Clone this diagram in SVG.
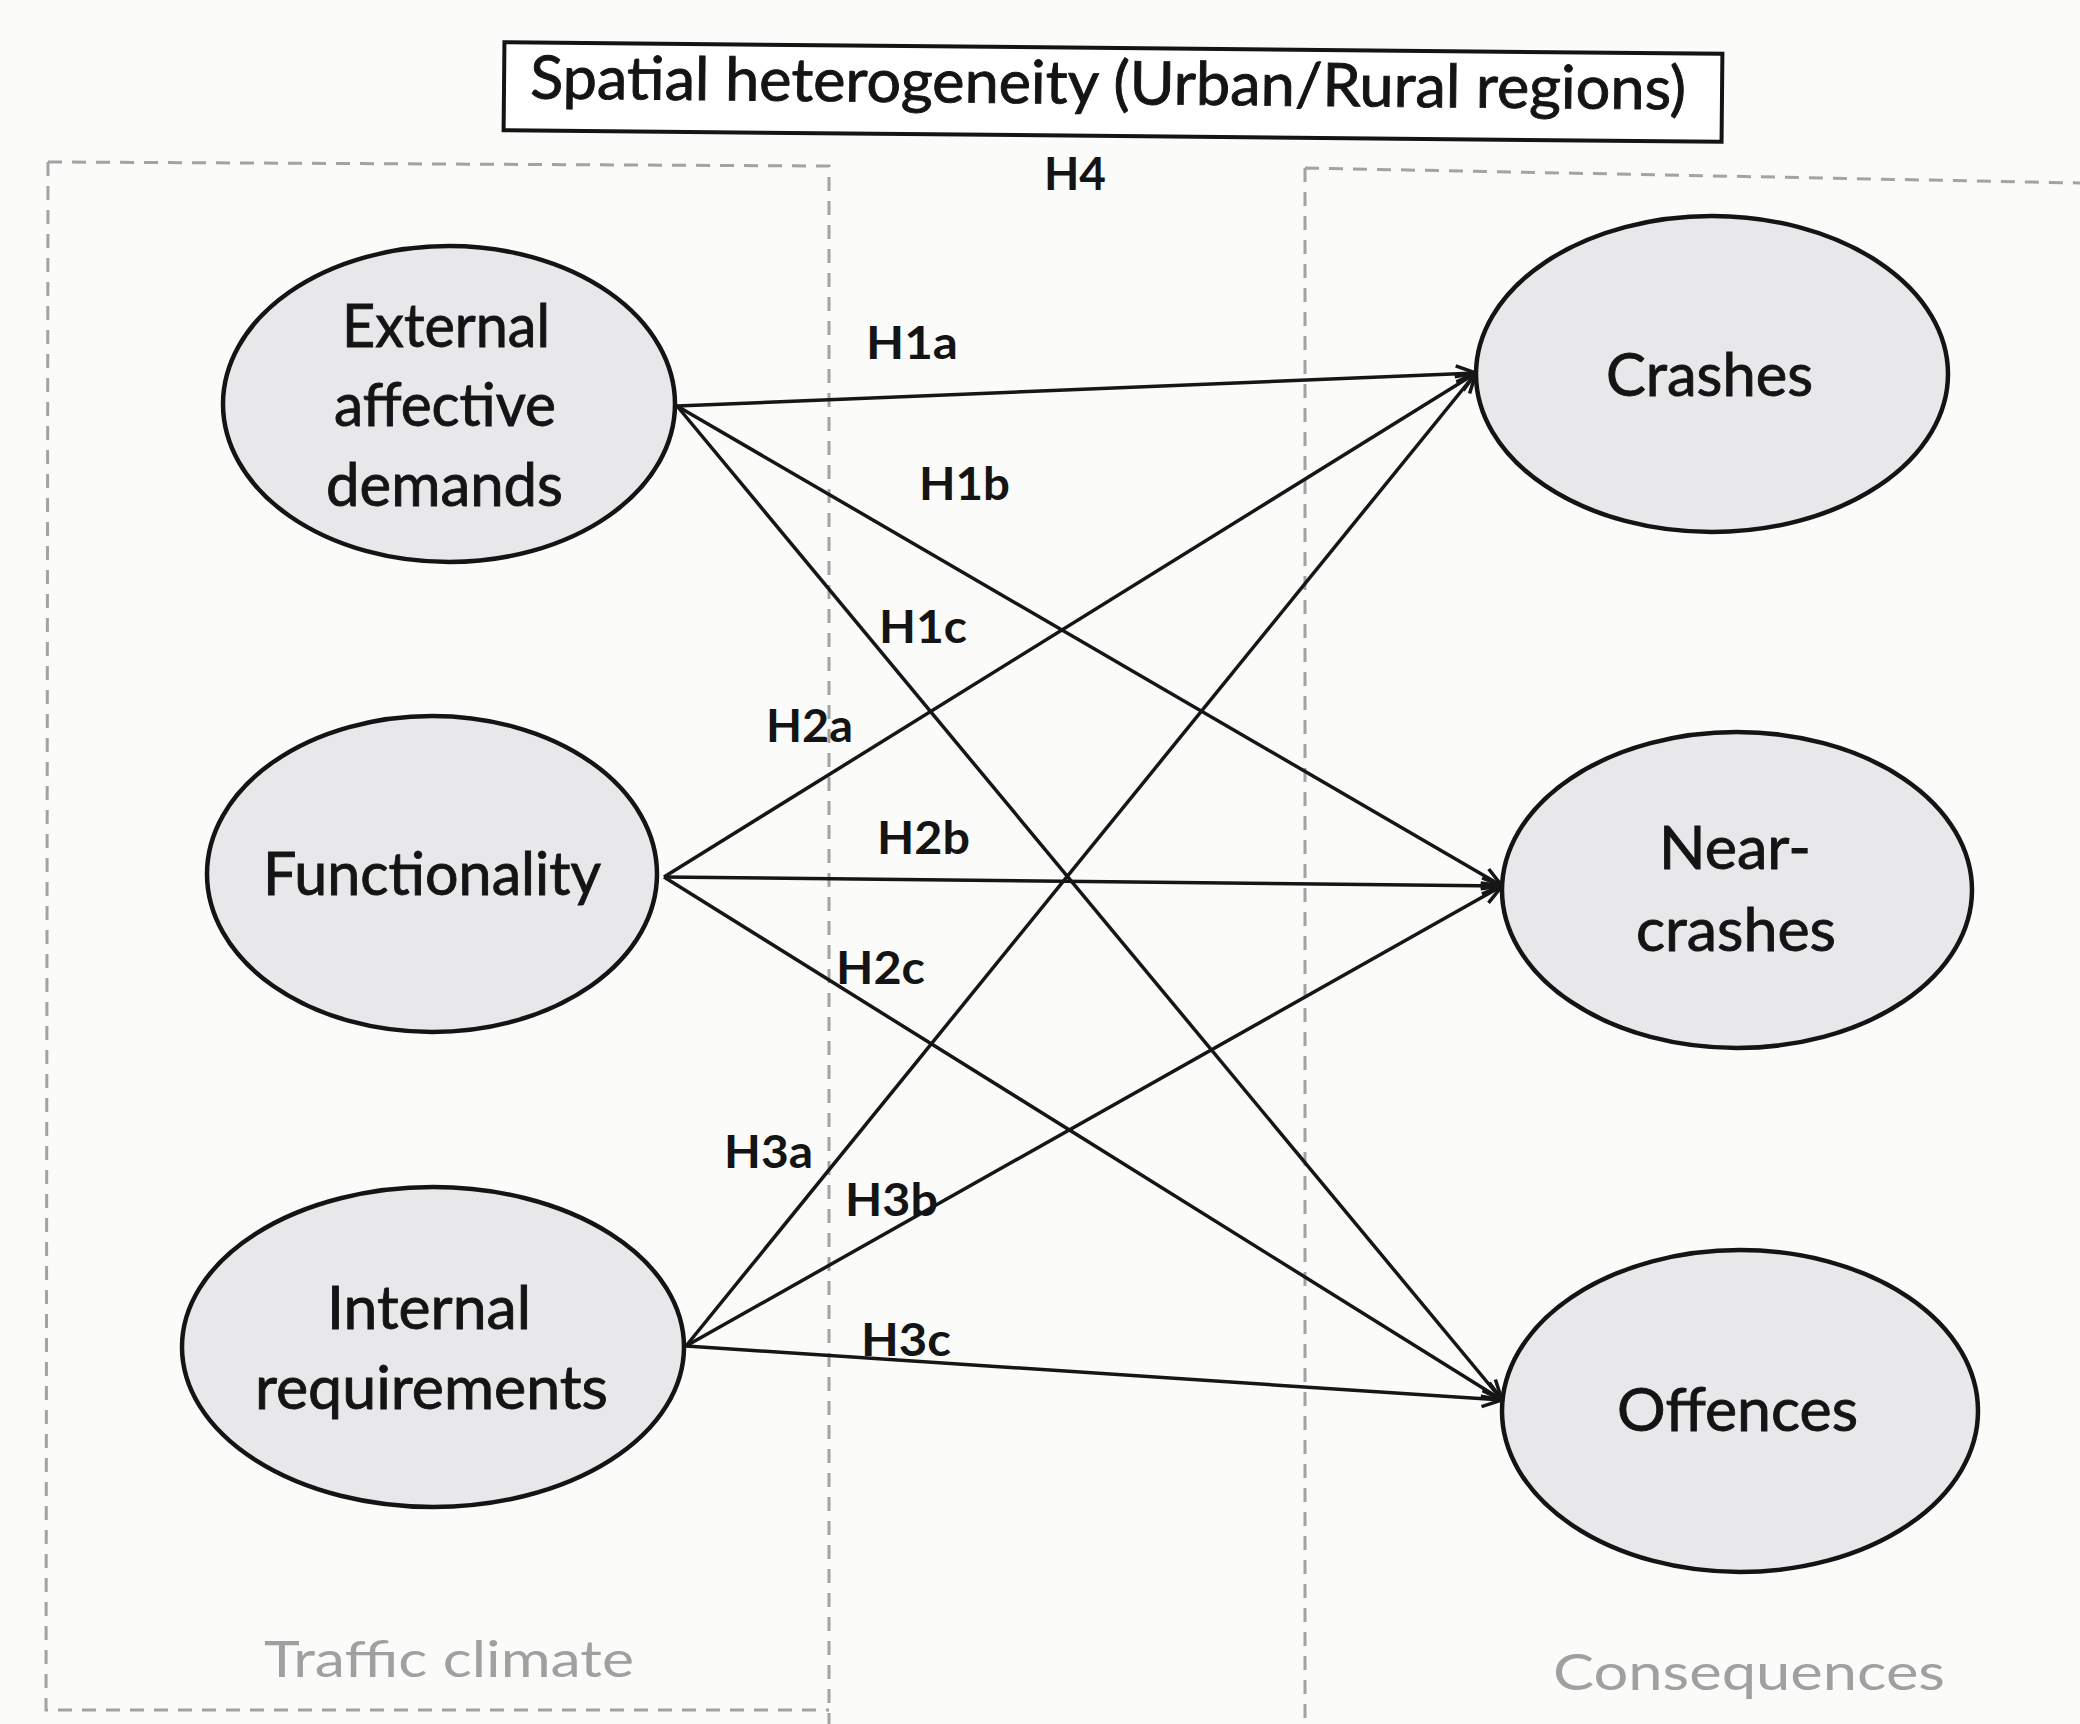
<svg xmlns="http://www.w3.org/2000/svg" width="2080" height="1724" viewBox="0 0 2080 1724">
<defs>
<style>
.bg{fill:#fbfbfa}
.panel{fill:none;stroke:#a3a3a3;stroke-width:3;stroke-dasharray:14 10}
.node ellipse{fill:#e8e8eb;stroke:#141414;stroke-width:4.5}
.t{font-family:Lato,"Open Sans","Liberation Sans",sans-serif;font-size:60px;fill:#141414;stroke:#141414;stroke-width:0.9}
.h{font-family:Lato,"Open Sans","Liberation Sans",sans-serif;font-size:46px;font-weight:700;fill:#141414}
.cap{font-family:Lato,"Open Sans","Liberation Sans",sans-serif;font-size:50px;fill:#a0a0a0}
.conn line{stroke:#161616;stroke-width:3.5;fill:none;marker-end:url(#arr)}
.box{fill:#ffffff;stroke:#141414;stroke-width:4}
</style>
<marker id="arr" markerUnits="userSpaceOnUse" markerWidth="26" markerHeight="22" refX="23" refY="10" orient="auto">
<path d="M3,2 L23,10 L3,18" fill="none" stroke="#161616" stroke-width="3.5"/>
</marker>
</defs>
<rect class="bg" x="0" y="0" width="2080" height="1724"/>

<g id="panels">
<path class="panel" d="M48,162 L829,166 L829,1724 M48,162 L46,1710 L829,1710"/>
<path class="panel" d="M1305,168 L2080,183 M1305,168 L1305,1724"/>
<text class="cap" x="264" y="1677" textLength="370" lengthAdjust="spacingAndGlyphs">Traffic climate</text>
<text class="cap" x="1553" y="1690" textLength="392" lengthAdjust="spacingAndGlyphs">Consequences</text>
</g>

<g id="spatial" transform="rotate(0.55 1113 92)">
<rect class="box" x="504" y="48" width="1218" height="88"/>
<text class="t" x="530" y="104" font-size="56" textLength="1156" lengthAdjust="spacingAndGlyphs">Spatial heterogeneity (Urban/Rural regions)</text>
</g>
<text id="h4" class="h" x="1044" y="190" textLength="62" lengthAdjust="spacingAndGlyphs">H4</text>

<g id="connectors" class="conn">
<line x1="677" y1="406" x2="1476" y2="373"/>
<line x1="677" y1="406" x2="1502" y2="886"/>
<line x1="677" y1="406" x2="1502" y2="1400"/>
<line x1="664" y1="877" x2="1476" y2="373"/>
<line x1="664" y1="877" x2="1502" y2="886"/>
<line x1="664" y1="877" x2="1502" y2="1400"/>
<line x1="686" y1="1346" x2="1476" y2="373"/>
<line x1="686" y1="1346" x2="1502" y2="886"/>
<line x1="686" y1="1346" x2="1502" y2="1400"/>
</g>

<g id="hlabels">
<text class="h" x="866" y="359" textLength="92" lengthAdjust="spacingAndGlyphs">H1a</text>
<text class="h" x="919" y="500" textLength="91" lengthAdjust="spacingAndGlyphs">H1b</text>
<text class="h" x="879" y="643" textLength="88" lengthAdjust="spacingAndGlyphs">H1c</text>
<text class="h" x="766" y="742" textLength="87" lengthAdjust="spacingAndGlyphs">H2a</text>
<text class="h" x="877" y="854" textLength="93" lengthAdjust="spacingAndGlyphs">H2b</text>
<text class="h" x="836" y="984" textLength="89" lengthAdjust="spacingAndGlyphs">H2c</text>
<text class="h" x="724" y="1168" textLength="89" lengthAdjust="spacingAndGlyphs">H3a</text>
<text class="h" x="845" y="1216" textLength="93" lengthAdjust="spacingAndGlyphs">H3b</text>
<text class="h" x="861" y="1356" textLength="90" lengthAdjust="spacingAndGlyphs">H3c</text>
</g>

<g id="external" class="node">
<ellipse cx="449" cy="404" rx="226" ry="158"/>
<text class="t" x="342" y="347" textLength="208" lengthAdjust="spacingAndGlyphs">External</text>
<text class="t" x="334" y="426" textLength="222" lengthAdjust="spacingAndGlyphs">affective</text>
<text class="t" x="326" y="506" textLength="237" lengthAdjust="spacingAndGlyphs">demands</text>
</g>
<g id="functionality" class="node">
<ellipse cx="432" cy="874" rx="225" ry="158"/>
<text class="t" x="263" y="895" textLength="338" lengthAdjust="spacingAndGlyphs">Functionality</text>
</g>
<g id="internal" class="node">
<ellipse cx="433" cy="1347" rx="251" ry="160"/>
<text class="t" x="327" y="1329" textLength="204" lengthAdjust="spacingAndGlyphs">Internal</text>
<text class="t" x="255" y="1409" textLength="353" lengthAdjust="spacingAndGlyphs">requirements</text>
</g>
<g id="crashes" class="node">
<ellipse cx="1712" cy="374" rx="236" ry="158"/>
<text class="t" x="1606" y="396" textLength="207" lengthAdjust="spacingAndGlyphs">Crashes</text>
</g>
<g id="nearcrashes" class="node">
<ellipse cx="1737" cy="890" rx="235" ry="158"/>
<text class="t" x="1659" y="869" textLength="152" lengthAdjust="spacingAndGlyphs">Near-</text>
<text class="t" x="1636" y="951" textLength="200" lengthAdjust="spacingAndGlyphs">crashes</text>
</g>
<g id="offences" class="node">
<ellipse cx="1740" cy="1411" rx="238" ry="161"/>
<text class="t" x="1617" y="1431" textLength="241" lengthAdjust="spacingAndGlyphs">Offences</text>
</g>
</svg>
